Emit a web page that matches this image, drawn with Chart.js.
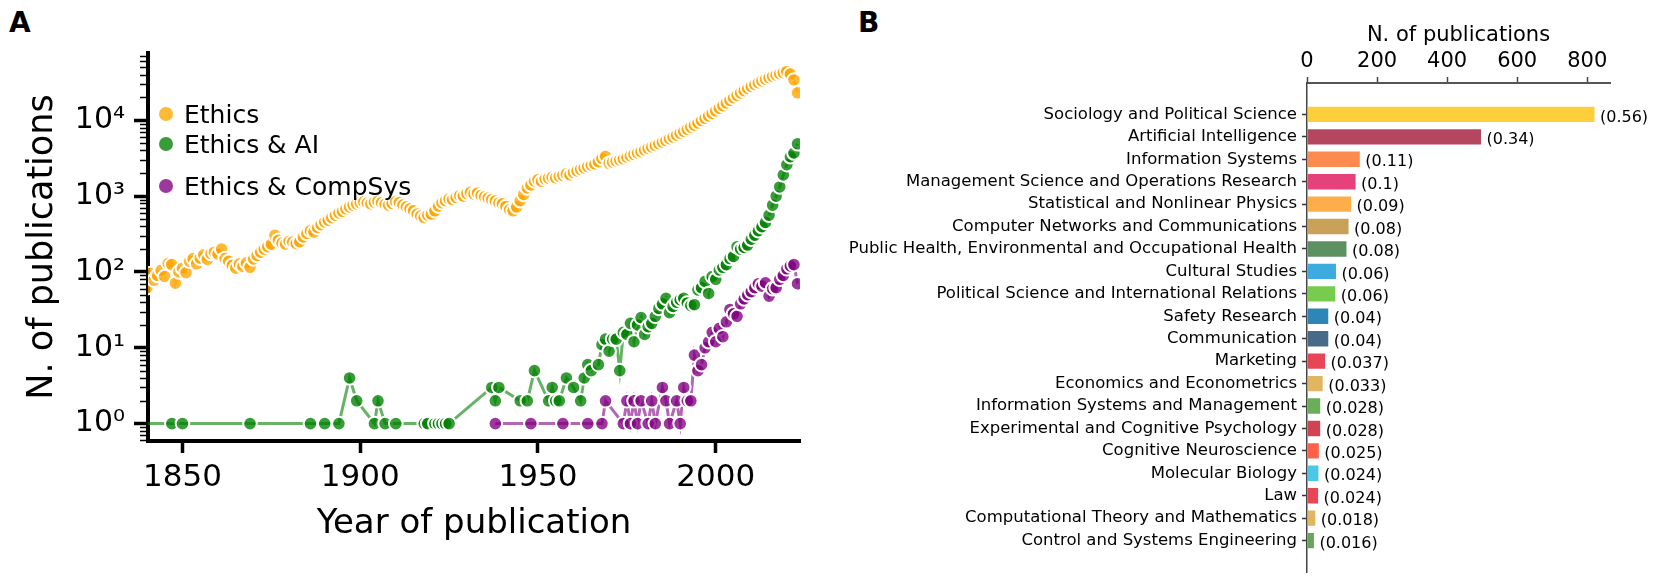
<!DOCTYPE html>
<html lang="en">
<head>
<meta charset="utf-8">
<title>Ethics publications</title>
<script src="https://cdn.jsdelivr.net/npm/chart.js"></script>
<style>
  html, body { margin: 0; padding: 0; background: #fff; }
  body { width: 1659px; height: 580px; position: relative; overflow: hidden; font-family: "DejaVu Sans", sans-serif; }
  .panel { position: absolute; top: 0; height: 580px; }
  #wrapA { left: 0; width: 830px; }
  #wrapB { left: 830px; width: 829px; }
  .tag { position: absolute; font-weight: bold; font-size: 28px; line-height: 1; }
</style>
</head>
<body>
<div class="tag" style="left:9px;top:9px">A</div>
<div class="tag" style="left:858px;top:9px">B</div>
<div class="panel" id="wrapA"><canvas id="chartA"></canvas></div>
<div class="panel" id="wrapB"><canvas id="chartB"></canvas></div>
<script>
// ---- panel A: yearly publication counts ----
const ethicsFirstYear = 1840;
const ethicsCounts = [
  62, 95, 78, 90, 105, 87, 130, 125, 71, 100,          // 1840s
  112, 98, 138, 150, 128, 152, 168, 146, 175, 182,     // 1850s
  172, 200, 150, 138, 122, 112, 128, 118, 132, 115,    // 1860s
  148, 165, 182, 200, 215, 232, 305, 262, 240, 232,    // 1870s
  255, 248, 236, 250, 290, 322, 350, 335, 385, 420,    // 1880s
  455, 480, 520, 560, 600, 630, 680, 720, 760, 790,    // 1890s
  820, 840, 810, 790, 830, 860, 820, 780, 760, 800,    // 1900s
  850, 820, 760, 720, 680, 640, 580, 545, 520, 560,    // 1910s
  580, 640, 740, 820, 870, 920, 900, 960, 1020, 1000,  // 1920s
  1080, 1120, 1060, 1100, 1020, 980, 940, 900, 860, 810, // 1930s
  790, 730, 660, 640, 720, 870, 1050, 1280, 1400, 1580,  // 1940s
  1650, 1560, 1680, 1720, 1780, 1740, 1820, 1880, 1960, 1900, // 1950s
  2050, 2150, 2250, 2350, 2450, 2550, 2650, 2850, 3150, 3350, // 1960s
  2700, 2800, 2900, 3000, 3100, 3250, 3400, 3550, 3700, 3850, // 1970s
  4050, 4250, 4450, 4650, 4900, 5150, 5400, 5700, 6000, 6350, // 1980s
  6750, 7150, 7600, 8100, 8600, 9200, 9900, 10600, 11400, 12300, // 1990s
  13300, 14400, 15600, 16900, 18300, 19800, 21300, 22900, 24500, 26200, // 2000s
  27900, 29600, 31300, 33000, 34700, 36300, 37900, 39500, 41000, 42500, // 2010s
  44000, 40500, 34000, 23000                            // 2020-2023
];

const aiYears = [
  1838, 1847, 1850, 1869, 1886, 1890, 1894, 1897, 1899, 1904, 1905, 1907, 1910,
  1918, 1919, 1921, 1922, 1923, 1924, 1925, 1937, 1938, 1939, 1945, 1947,
  1949, 1953, 1954, 1955, 1956, 1958, 1960, 1962, 1963, 1964, 1965, 1967,
  1968, 1969, 1970, 1971, 1972, 1973, 1974, 1975, 1976, 1977, 1978, 1979,
  1980, 1981, 1982, 1983, 1984, 1985, 1986, 1987, 1988, 1989, 1990, 1991,
  1992, 1993, 1994, 1995, 1996, 1997, 1998, 1999, 2000, 2001, 2002, 2003,
  2004, 2005, 2006, 2007, 2008, 2009, 2010, 2011, 2012, 2013, 2014, 2015,
  2016, 2017, 2018, 2019, 2020, 2021, 2022, 2023
];
const aiCounts = [
  1, 1, 1, 1, 1, 1, 1, 4, 2, 1, 2, 1, 1,
  1, 1, 1, 1, 1, 1, 1, 3, 2, 3, 2, 2,
  5, 2, 3, 2, 2, 4, 3, 2, 4, 6, 5, 6,
  11, 13, 9, 13, 13, 5, 16, 15, 21, 12, 20, 25,
  15, 19, 21, 26, 33, 38, 45, 29, 35, 40, 43, 45,
  39, 36, 37, 58, 62, 75, 52, 87, 80, 106, 115, 125,
  150, 160, 215, 200, 210, 226, 270, 305, 350, 394, 450, 560,
  760, 1000, 1320, 1900, 2600, 3300, 3700, 4900
];

const compYears = [
  1938, 1948, 1957, 1964, 1968, 1969, 1974, 1975, 1976, 1977, 1978, 1979,
  1981, 1982, 1983, 1985, 1986, 1987, 1989, 1990, 1991, 1992, 1993, 1994,
  1995, 1996, 1997, 1998, 1999, 2000, 2001, 2002, 2003, 2004, 2005, 2006,
  2007, 2008, 2009, 2010, 2011, 2012, 2013, 2014, 2015, 2016, 2017, 2018,
  2019, 2020, 2021, 2022, 2023
];
const compCounts = [
  1, 1, 1, 1, 1, 2, 1, 2, 1, 2, 1, 2,
  1, 2, 1, 3, 2, 1, 2, 1, 3, 2, 2, 8,
  5, 6, 10, 12, 16, 12, 18, 14, 22, 32, 28, 26,
  38, 44, 50, 55, 62, 70, 65, 72, 48, 60, 62, 80,
  90, 110, 120, 125, 70
];

const yearTicks = [1850, 1900, 1950, 2000];
const decadeTicks = [1, 10, 100, 1000, 10000];

// ---- panel B: publications per field ----
const fields = [
  'Sociology and Political Science', 'Artificial Intelligence', 'Information Systems',
  'Management Science and Operations Research', 'Statistical and Nonlinear Physics',
  'Computer Networks and Communications', 'Public Health, Environmental and Occupational Health',
  'Cultural Studies', 'Political Science and International Relations', 'Safety Research',
  'Communication', 'Marketing', 'Economics and Econometrics', 'Information Systems and Management',
  'Experimental and Cognitive Psychology', 'Cognitive Neuroscience', 'Molecular Biology', 'Law',
  'Computational Theory and Mathematics', 'Control and Systems Engineering'
];
const fieldCounts = [825, 501, 155, 143, 130, 123, 117, 87, 85, 65, 65, 56, 49, 42, 42, 38, 37, 36, 28, 24];
const fieldShares = ['(0.56)', '(0.34)', '(0.11)', '(0.1)', '(0.09)', '(0.08)', '(0.08)', '(0.06)', '(0.06)', '(0.04)',
  '(0.04)', '(0.037)', '(0.033)', '(0.028)', '(0.028)', '(0.025)', '(0.024)', '(0.024)', '(0.018)', '(0.016)'];
const fieldColors = ['#FECE3B', '#B4475F', '#FD8A4E', '#E5417B', '#FEAD4A', '#C9A159', '#5E9162', '#3DAAE0',
  '#77CC4E', '#2E86B6', '#466A87', '#E84657', '#E1B662', '#6AAE5A', '#CF4352', '#FE6049', '#4CC8E6',
  '#E84657', '#E1B662', '#65A659'];
const countTicks = [0, 200, 400, 600, 800];

Chart.defaults.font.family = '"DejaVu Sans", sans-serif';
Chart.defaults.color = '#000';

const sup = ['\u2070', '\u00B9', '\u00B2', '\u00B3', '\u2074'];

function series(label, xs, ys, rgb) {
  return {
    label: label,
    data: xs.map((x, i) => ({ x: x, y: ys[i] })),
    clip: 0,
    borderColor: 'rgba(' + rgb + ',0.6)',
    borderWidth: 3,
    pointRadius: 6.8,
    pointHoverRadius: 6.8,
    pointBackgroundColor: 'rgba(' + rgb + ',0.78)',
    pointBorderColor: '#fff',
    pointBorderWidth: 2
  };
}

const ethicsYears = ethicsCounts.map((_, i) => ethicsFirstYear + i);

// fix a scale's range after ticks are set
function pinRange(min, max, ticks) {
  return (s) => {
    s.ticks = ticks.map(v => ({ value: v }));
    s.min = min;
    s.max = max;
  };
}

// legend inside the plot and minor log ticks
const panelAExtras = {
  id: 'panelAExtras',
  afterDraw(chart) {
    const ctx = chart.ctx;
    const y = chart.scales.y;
    const left = chart.chartArea.left;
    ctx.save();
    ctx.strokeStyle = '#000';
    ctx.lineWidth = 1.5;
    for (let e = -1; e <= 4; e++) {
      for (let m = 2; m <= 9; m++) {
        const v = m * Math.pow(10, e);
        if (v < y.min || v > y.max) continue;
        const py = Math.round(y.getPixelForValue(v)) + 0.5;
        ctx.beginPath();
        ctx.moveTo(left - 8, py);
        ctx.lineTo(left, py);
        ctx.stroke();
      }
    }
    const rows = [116, 146, 188];
    ctx.font = '25px "DejaVu Sans"';
    ctx.textBaseline = 'middle';
    ctx.textAlign = 'left';
    chart.data.datasets.forEach((ds, i) => {
      ctx.beginPath();
      ctx.arc(166, rows[i] - 2, 7, 0, Math.PI * 2);
      ctx.fillStyle = ds.pointBackgroundColor;
      ctx.fill();
      ctx.fillStyle = '#000';
      ctx.fillText(ds.label, 184, rows[i]);
    });
    ctx.restore();
  }
};

new Chart(document.getElementById('chartA'), {
  type: 'line',
  data: {
    datasets: [
      series('Ethics', ethicsYears, ethicsCounts, '255,165,0'),
      series('Ethics & AI', aiYears, aiCounts, '0,128,0'),
      series('Ethics & CompSys', compYears, compCounts, '128,0,128')
    ]
  },
  options: {
    responsive: true,
    maintainAspectRatio: false,
    animation: false,
    layout: { padding: { top: 53, right: 30, left: 0, bottom: 0 } },
    plugins: { legend: { display: false }, tooltip: { enabled: false } },
    scales: {
      x: {
        type: 'linear',
        afterBuildTicks: pinRange(1840.3, 2023.7, yearTicks),
        afterFit: (s) => { s.height = 139; },
        ticks: { font: { size: 31 }, padding: 6, callback: (v) => String(v) },
        grid: { drawOnChartArea: false, tickLength: 12, tickWidth: 3.5, tickColor: '#000' },
        border: { display: true, width: 4, color: '#000' },
        title: { display: true, text: 'Year of publication', font: { size: 34, lineHeight: 1 }, padding: { top: 0, bottom: 39 } }
      },
      y: {
        type: 'logarithmic',
        afterBuildTicks: pinRange(0.59, 77000, decadeTicks),
        afterFit: (s) => { s.width = 148; },
        ticks: { font: { size: 30 }, padding: 9, callback: (v) => '10' + sup[Math.round(Math.log10(v))] },
        grid: { drawOnChartArea: false, tickLength: 14, tickWidth: 3.5, tickColor: '#000' },
        border: { display: true, width: 4, color: '#000' },
        title: { display: true, text: 'N. of publications', font: { size: 35, lineHeight: 1 }, padding: { top: 25, bottom: 0 } }
      }
    }
  },
  plugins: [panelAExtras]
});

// share labels after each bar
const shareLabels = {
  id: 'shareLabels',
  afterDatasetsDraw(chart) {
    const ctx = chart.ctx;
    const meta = chart.getDatasetMeta(0);
    ctx.save();
    ctx.font = '16px "DejaVu Sans"';
    ctx.fillStyle = '#000';
    ctx.textAlign = 'left';
    ctx.textBaseline = 'middle';
    meta.data.forEach((bar, i) => {
      ctx.fillText(fieldShares[i], bar.x + 4, bar.y + 3);
    });
    ctx.restore();
  }
};

new Chart(document.getElementById('chartB'), {
  type: 'bar',
  data: {
    datasets: [{
      data: fieldCounts.map((v, i) => ({ x: v, y: i })),
      backgroundColor: fieldColors,
      borderColor: 'rgba(255,255,255,0.45)',
      borderWidth: 1.5,
      barPercentage: 0.82,
      categoryPercentage: 1
    }]
  },
  options: {
    indexAxis: 'y',
    responsive: true,
    maintainAspectRatio: false,
    animation: false,
    layout: { padding: { top: 0, right: 49, left: 0, bottom: 8 } },
    plugins: { legend: { display: false }, tooltip: { enabled: false } },
    scales: {
      x: {
        type: 'linear',
        position: 'top',
        afterBuildTicks: pinRange(0, 865, countTicks),
        afterFit: (s) => { s.height = 83; },
        ticks: { font: { size: 21 }, padding: 3 },
        grid: { drawOnChartArea: false, tickLength: 6, tickWidth: 1.5, tickColor: '#444' },
        border: { display: true, width: 2, color: '#555' },
        title: { display: true, text: 'N. of publications', font: { size: 21 }, padding: { top: 23, bottom: 0 } }
      },
      y: {
        type: 'linear',
        reverse: true,
        offset: false,
        afterBuildTicks: pinRange(-1.4, 20.4, fields.map((_, i) => i)),
        afterFit: (s) => { s.width = 477; s.paddingTop = 0; s.paddingBottom = 0; },
        ticks: { font: { size: 16.5 }, padding: 5, autoSkip: false, callback: (v) => fields[v] },
        grid: { drawOnChartArea: false, offset: false, tickLength: 5, tickWidth: 1.5, tickColor: '#333' },
        border: { display: true, width: 1.5, color: '#444' }
      }
    }
  },
  plugins: [shareLabels]
});
</script>
</body>
</html>
